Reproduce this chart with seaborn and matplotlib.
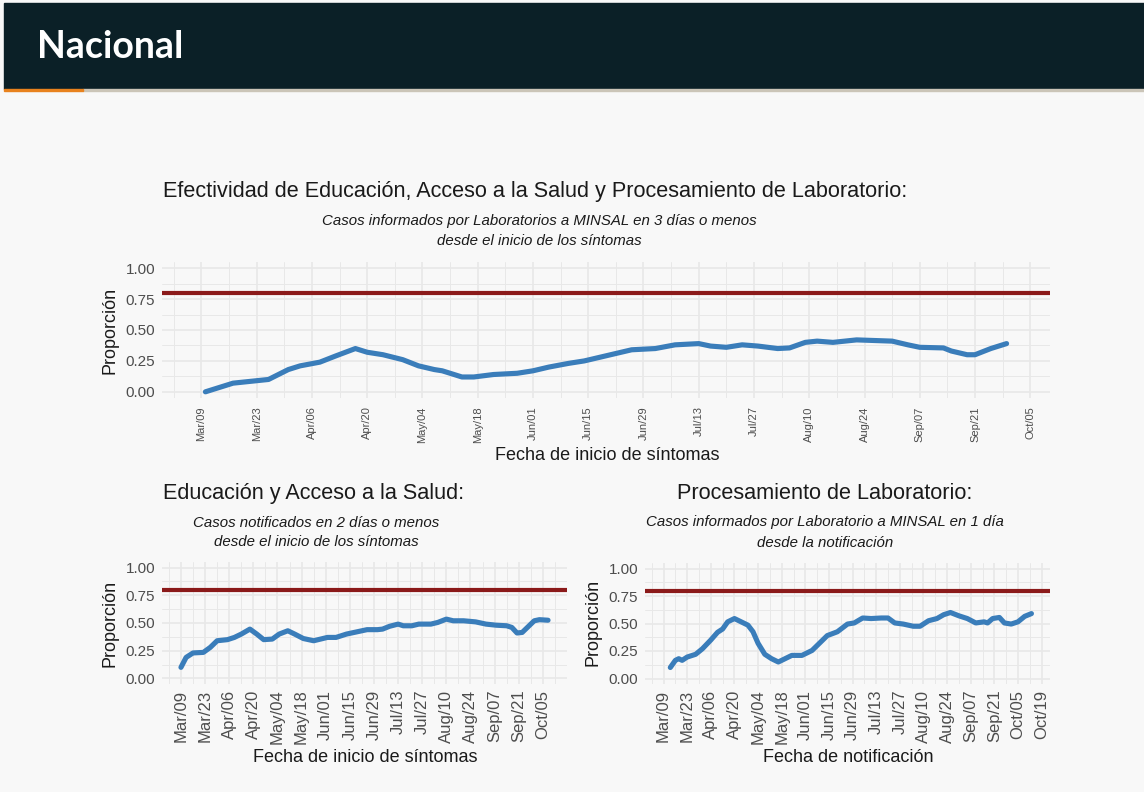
import matplotlib
matplotlib.use("Agg")
import matplotlib.pyplot as plt
import matplotlib.dates as mdates
from matplotlib.patches import Rectangle
import pandas as pd
import seaborn as sns

W, H = 1144, 792

# ---- data ----
top_dates = ["2020-03-10", "2020-03-17", "2020-03-26", "2020-03-31", "2020-04-03", "2020-04-08",
             "2020-04-12", "2020-04-17", "2020-04-20", "2020-04-24", "2020-04-29", "2020-05-03",
             "2020-05-07", "2020-05-09", "2020-05-14", "2020-05-17", "2020-05-22", "2020-05-28",
             "2020-06-01", "2020-06-05", "2020-06-10", "2020-06-14", "2020-06-18", "2020-06-26",
             "2020-07-02", "2020-07-07", "2020-07-13", "2020-07-16", "2020-07-20", "2020-07-24",
             "2020-07-28", "2020-08-02", "2020-08-05", "2020-08-09", "2020-08-12", "2020-08-16",
             "2020-08-22", "2020-08-31", "2020-09-04", "2020-09-07", "2020-09-13", "2020-09-15",
             "2020-09-19", "2020-09-21", "2020-09-25", "2020-09-29"]
top_vals = [0.00, 0.07, 0.10, 0.18, 0.21, 0.24,
            0.29, 0.35, 0.32, 0.30, 0.26, 0.21,
            0.18, 0.17, 0.12, 0.12, 0.14, 0.15,
            0.17, 0.20, 0.23, 0.25, 0.28, 0.34,
            0.35, 0.38, 0.39, 0.37, 0.36, 0.38,
            0.37, 0.35, 0.355, 0.40, 0.41, 0.40,
            0.42, 0.41, 0.38, 0.36, 0.355, 0.33,
            0.30, 0.30, 0.35, 0.39]

edu_dates = ["2020-03-09", "2020-03-12", "2020-03-16", "2020-03-22", "2020-03-26", "2020-03-30",
             "2020-04-05", "2020-04-09", "2020-04-13", "2020-04-18", "2020-04-22", "2020-04-26",
             "2020-05-01", "2020-05-05", "2020-05-10", "2020-05-14", "2020-05-19", "2020-05-25",
             "2020-06-02", "2020-06-07", "2020-06-13", "2020-06-19", "2020-06-25", "2020-07-01",
             "2020-07-04", "2020-07-08", "2020-07-13", "2020-07-16", "2020-07-21", "2020-07-25",
             "2020-08-01", "2020-08-05", "2020-08-10", "2020-08-14", "2020-08-20", "2020-08-27",
             "2020-09-02", "2020-09-08", "2020-09-14", "2020-09-17", "2020-09-20", "2020-09-23",
             "2020-09-26", "2020-09-30", "2020-10-03", "2020-10-08"]
edu_vals = [0.10, 0.19, 0.23, 0.235, 0.28, 0.34,
            0.35, 0.37, 0.40, 0.445, 0.40, 0.35,
            0.355, 0.40, 0.43, 0.40, 0.36, 0.34,
            0.37, 0.37, 0.40, 0.42, 0.44, 0.44,
            0.445, 0.47, 0.49, 0.475, 0.475, 0.49,
            0.49, 0.505, 0.535, 0.52, 0.52, 0.51,
            0.49, 0.48, 0.475, 0.46, 0.41, 0.415,
            0.46, 0.52, 0.53, 0.525]

lab_dates = ["2020-03-13", "2020-03-16", "2020-03-18", "2020-03-20", "2020-03-23", "2020-03-28",
             "2020-04-01", "2020-04-06", "2020-04-10", "2020-04-13", "2020-04-16", "2020-04-20",
             "2020-04-24", "2020-04-28", "2020-05-01", "2020-05-04", "2020-05-08", "2020-05-12",
             "2020-05-16", "2020-05-20", "2020-05-24", "2020-05-30", "2020-06-05", "2020-06-10",
             "2020-06-14", "2020-06-20", "2020-06-26", "2020-06-30", "2020-07-05", "2020-07-10",
             "2020-07-16", "2020-07-20", "2020-07-24", "2020-07-29", "2020-08-04", "2020-08-08",
             "2020-08-13", "2020-08-18", "2020-08-22", "2020-08-26", "2020-08-31", "2020-09-05",
             "2020-09-10", "2020-09-15", "2020-09-17", "2020-09-20", "2020-09-24", "2020-09-27",
             "2020-10-01", "2020-10-05", "2020-10-09", "2020-10-13"]
lab_vals = [0.10, 0.165, 0.18, 0.165, 0.195, 0.22,
            0.27, 0.35, 0.42, 0.45, 0.515, 0.545,
            0.515, 0.485, 0.425, 0.32, 0.22, 0.18,
            0.15, 0.18, 0.21, 0.21, 0.255, 0.33,
            0.39, 0.425, 0.495, 0.505, 0.55, 0.545,
            0.55, 0.55, 0.505, 0.495, 0.475, 0.475,
            0.525, 0.545, 0.58, 0.60, 0.57, 0.545,
            0.505, 0.515, 0.505, 0.545, 0.555, 0.505,
            0.495, 0.515, 0.565, 0.59]

meta = 0.8
y_ticks = [0.0, 0.25, 0.5, 0.75, 1.0]

BG = "#f8f8f8"
HEADER = "#0b2027"
BLUE = "#3a7dba"
RED = "#8b1a1a"
GRID = "#e8e8e8"
TICK = "#4d4d4d"
TXT = "#1a1a1a"

sns.set_theme(style="whitegrid")
plt.rcParams["font.family"] = ["Liberation Sans", "DejaVu Sans"]

fig = plt.figure(figsize=(W / 100, H / 100), dpi=100)
fig.patch.set_facecolor(BG)


def fx(x):
    return x / W


def fy(y):
    return 1 - y / H


def panel(x0, x1, y0, y1):
    return fig.add_axes([fx(x0), fy(y1), (x1 - x0) / W, (y1 - y0) / H])


def draw(ax, dates, vals, xlim, last_tick, tick_size, xpad):
    df = pd.DataFrame({"fecha": pd.to_datetime(dates), "prop": vals})
    ax.set_facecolor(BG)
    ax.axhline(meta, color=RED, lw=3, zorder=2)
    sns.lineplot(data=df, x="fecha", y="prop", ax=ax, color=BLUE, linewidth=3.7, zorder=3)
    majors = pd.date_range("2020-03-09", last_tick, freq="14D")
    minors = pd.date_range("2020-03-02", pd.Timestamp(last_tick) + pd.Timedelta(days=7), freq="14D")
    ax.set_xticks(mdates.date2num(majors.to_pydatetime()))
    ax.set_xticks(mdates.date2num(minors.to_pydatetime()), minor=True)
    ax.xaxis.set_major_formatter(mdates.DateFormatter("%b/%d"))
    ax.set_xlim(mdates.date2num(pd.Timestamp(xlim[0])), mdates.date2num(pd.Timestamp(xlim[1])))
    ax.set_ylim(-0.05, 1.05)
    ax.set_yticks(y_ticks)
    ax.set_yticklabels([f"{v:.2f}" for v in y_ticks])
    ax.set_yticks([0.125, 0.375, 0.625, 0.875], minor=True)
    ax.grid(which="major", color=GRID, lw=1.2)
    ax.grid(which="minor", color=GRID, lw=0.7)
    ax.tick_params(which="both", length=0)
    ax.tick_params(axis="x", labelrotation=90, labelsize=tick_size, colors=TICK, pad=xpad)
    ax.tick_params(axis="y", labelsize=11, colors=TICK, pad=5)
    for s in ax.spines.values():
        s.set_visible(False)
    ax.set_xlabel("")
    ax.set_ylabel("")


# header band
fig.patches.append(Rectangle((fx(4), fy(89)), (W - 4) / W, 86 / H, transform=fig.transFigure,
                             color=HEADER, zorder=0))
fig.patches.append(Rectangle((fx(83), fy(91)), (W - 83) / W, 2 / H, transform=fig.transFigure,
                             color="#cbc5b8", zorder=0))
fig.patches.append(Rectangle((fx(4), fy(91)), 79 / W, 2 / H, transform=fig.transFigure,
                             color="#e8821e", zorder=0))
fig.text(fx(37), fy(47), "Nacional", color="white", fontsize=27, fontweight="bold",
         family=["Lato", "DejaVu Sans"], ha="left", va="center")

TITLE = 15.6
SUB = 10.8

# top panel
ax1 = panel(162, 1050, 262, 398)
draw(ax1, top_dates, top_vals, ("2020-02-28", "2020-10-10"), "2020-10-05", 8, 6)
fig.text(fx(163), fy(192), "Efectividad de Educación, Acceso a la Salud y Procesamiento de Laboratorio:",
         fontsize=TITLE, color=TXT, ha="left", va="center")
fig.text(fx(539), fy(221), "Casos informados por Laboratorios a MINSAL en 3 días o menos",
         fontsize=SUB, style="italic", color=TXT, ha="center", va="center")
fig.text(fx(539), fy(241), "desde el inicio de los síntomas",
         fontsize=SUB, style="italic", color=TXT, ha="center", va="center")
fig.text(fx(110), fy(330), "Proporción", rotation=90, fontsize=13, color=TXT, ha="center", va="center")
fig.text(fx(607), fy(455), "Fecha de inicio de síntomas", fontsize=13, color=TXT, ha="center", va="center")

# bottom left panel
ax2 = panel(162, 567, 562, 684)
draw(ax2, edu_dates, edu_vals, ("2020-02-27", "2020-10-19"), "2020-10-05", 12, 4)
fig.text(fx(163), fy(493), "Educación y Acceso a la Salud:", fontsize=TITLE, color=TXT, ha="left", va="center")
fig.text(fx(316), fy(523), "Casos notificados en 2 días o menos",
         fontsize=SUB, style="italic", color=TXT, ha="center", va="center")
fig.text(fx(316), fy(542), "desde el inicio de los síntomas",
         fontsize=SUB, style="italic", color=TXT, ha="center", va="center")
fig.text(fx(110), fy(623), "Proporción", rotation=90, fontsize=13, color=TXT, ha="center", va="center")
fig.text(fx(365), fy(757), "Fecha de inicio de síntomas", fontsize=13, color=TXT, ha="center", va="center")

# bottom right panel
ax3 = panel(645, 1050, 563, 684)
draw(ax3, lab_dates, lab_vals, ("2020-02-27", "2020-10-24"), "2020-10-19", 12, 4)
fig.text(fx(677), fy(493), "Procesamiento de Laboratorio:", fontsize=TITLE, color=TXT, ha="left", va="center")
fig.text(fx(825), fy(522), "Casos informados por Laboratorio a MINSAL en 1 día",
         fontsize=SUB, style="italic", color=TXT, ha="center", va="center")
fig.text(fx(825), fy(543), "desde la notificación",
         fontsize=SUB, style="italic", color=TXT, ha="center", va="center")
fig.text(fx(593), fy(622), "Proporción", rotation=90, fontsize=13, color=TXT, ha="center", va="center")
fig.text(fx(848), fy(757), "Fecha de notificación", fontsize=13, color=TXT, ha="center", va="center")

fig.savefig("out.png", dpi=100, facecolor=BG)
